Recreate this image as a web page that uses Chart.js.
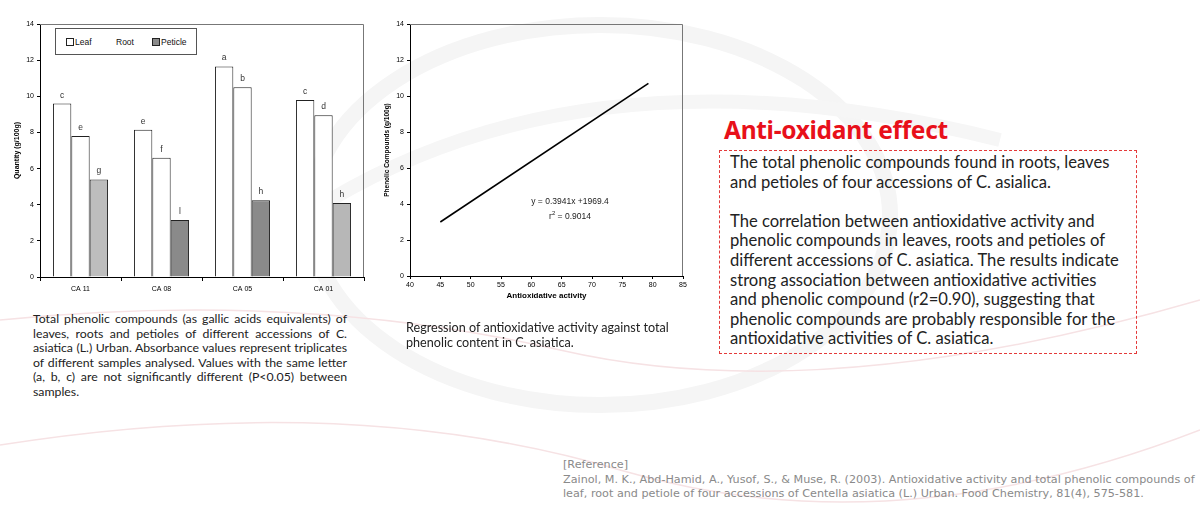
<!DOCTYPE html>
<html>
<head>
<meta charset="utf-8">
<script src="https://cdn.jsdelivr.net/npm/chart.js@4.4.0/dist/chart.umd.min.js"></script>
<style>
  body { margin: 0; width: 1200px; height: 519px; background: #fff; position: relative; overflow: hidden; font-family: Lato, "Noto Sans", sans-serif; }
  .abs { position: absolute; }
  #bg { left: 0; top: 0; }
  #c1 { left: 0; top: 0; width: 372px; height: 305px; }
  #c2 { left: 370px; top: 0; width: 330px; height: 305px; }
  #legend { left: 55px; top: 28px; width: 140px; height: 25px; border: 1px solid #555; background: #fff;
            font: 8.5px "Liberation Sans", Arial, sans-serif; color: #111; }
  #legend span { position: absolute; top: 8px; color: #111; }
  .sw { display: inline-block; width: 6px; height: 6px; border: 1px solid #222; margin-right: 1px; vertical-align: -1px; }
  #eq { left: 515px; top: 195px; width: 110px; text-align: center; font: 8.5px "Liberation Sans", Arial, sans-serif; color: #222; line-height: 12px; }
  #cap1 { left: 33px; top: 312px; width: 314px; font-size: 12.3px; line-height: 14.6px; color: #222; }
  #cap1 div { text-align: justify; text-align-last: justify; white-space: nowrap; }
  #cap1 div.last { text-align-last: left; }
  #cap2 { left: 406px; top: 320px; font-size: 12.6px; line-height: 15px; color: #222; white-space: nowrap; }
  #title { left: 724px; top: 113px; font: bold 24.5px "Noto Sans", sans-serif; color: #e8101a; letter-spacing: -0.3px; }
  #box { left: 719px; top: 150px; width: 418px; height: 204px; border: 1px dashed #e43a3a; box-sizing: border-box; }
  #boxtext { left: 730px; top: 153px; font-size: 16.6px; line-height: 19.6px; color: #222; white-space: nowrap; }
  #ref { left: 563px; top: 458px; font: 11.2px "DejaVu Sans", sans-serif; line-height: 14.5px; color: #8a8a8a; white-space: nowrap; }
</style>
</head>
<body>
<svg id="bg" class="abs" width="1200" height="519">
  <ellipse cx="600" cy="215" rx="290" ry="190" fill="none" stroke="#f5f5f5" stroke-width="16"/>
  <path d="M 330 200 Q 600 40 1000 140" fill="none" stroke="#f6f6f6" stroke-width="14"/>
  <path d="M 0 320 Q 300 290 560 350 T 1200 300" fill="none" stroke="#f6e2e4" stroke-width="1.5"/>
  <path d="M 0 445 Q 350 390 620 470 T 1200 430" fill="none" stroke="#f6e2e4" stroke-width="1.5"/>
</svg>

<div id="c1" class="abs"><canvas id="chart1"></canvas></div>
<div id="c2" class="abs"><canvas id="chart2"></canvas></div>

<div id="legend" class="abs">
  <span style="left:10px"><i class="sw" style="background:#fff"></i>Leaf</span>
  <span style="left:60px">Root</span>
  <span style="left:96px"><i class="sw" style="background:#8a8a8a"></i>Peticle</span>
</div>

<div id="eq" class="abs">y = 0.3941x +1969.4<br>r<sup style="font-size:6px">2</sup> = 0.9014</div>

<div id="cap1" class="abs">
  <div>Total phenolic compounds (as gallic acids equivalents) of</div>
  <div>leaves, roots and petioles of different accessions of C.</div>
  <div>asiatica (L.) Urban. Absorbance values represent triplicates</div>
  <div>of different samples analysed. Values with the same letter</div>
  <div>(a, b, c) are not significantly different (P&lt;0.05) between</div>
  <div class="last">samples.</div>
</div>

<div id="cap2" class="abs">Regression of antioxidative activity against total<br>phenolic content in C. asiatica.</div>

<div id="title" class="abs">Anti-oxidant effect</div>
<div id="box" class="abs"></div>
<div id="boxtext" class="abs">The total phenolic compounds found in roots, leaves<br>and petioles of four accessions of C. asialica.<br><br>The correlation between antioxidative activity and<br>phenolic compounds in leaves, roots and petioles of<br>different accessions of C. asiatica. The results indicate<br>strong association between antioxidative activities<br>and phenolic compound (r2=0.90), suggesting that<br>phenolic compounds are probably responsible for the<br>antioxidative activities of C. asiatica.</div>

<div id="ref" class="abs">[Reference]<br>Zainol, M. K., Abd-Hamid, A., Yusof, S., &amp; Muse, R. (2003). Antioxidative activity and total phenolic compounds of<br>leaf, root and petiole of four accessions of Centella asiatica (L.) Urban. Food Chemistry, 81(4), 575-581.</div>

<script>
// bar chart data (g/100g)
var accessions = ["CA 11", "CA 08", "CA 05", "CA 01"];
var leaf = [9.6, 8.15, 11.65, 9.8];
var root = [7.8, 6.6, 10.5, 8.95];
var petiole = [5.4, 3.15, 4.25, 4.1];
var leafLetters = ["c", "e", "a", "c"];
var rootLetters = ["e", "f", "b", "d"];
var petioleLetters = ["g", "l", "h", "h"];
var petioleColors = ["#bdbdbd", "#8a8a8a", "#8a8a8a", "#b7b7b7"];

// regression line
var regX = [45, 79.3];
var regY = [3.0, 10.7];

var tickFont = { family: "'Liberation Sans', Arial, sans-serif", size: 7 };

// top + right frame of the plot area
var framePlugin = {
  id: 'frame',
  afterDraw: function(chart) {
    var a = chart.chartArea, ctx = chart.ctx;
    ctx.save();
    ctx.strokeStyle = '#777';
    ctx.lineWidth = 1;
    ctx.beginPath();
    ctx.moveTo(a.left, a.top + 0.5);
    ctx.lineTo(a.right - 0.5, a.top + 0.5);
    ctx.lineTo(a.right - 0.5, a.bottom);
    ctx.stroke();
    ctx.restore();
  }
};

// significance letters above bars
var letterPlugin = {
  id: 'letters',
  afterDatasetsDraw: function(chart) {
    var ctx = chart.ctx;
    ctx.save();
    ctx.font = "8.5px 'Liberation Sans', Arial, sans-serif";
    ctx.fillStyle = '#333';
    ctx.textAlign = 'center';
    chart.data.datasets.forEach(function(ds, i) {
      chart.getDatasetMeta(i).data.forEach(function(bar, j) {
        ctx.fillText(ds.letters[j], bar.x, bar.y - 6);
      });
    });
    ctx.restore();
  }
};

new Chart(document.getElementById("chart1").getContext('2d'), {
  type: 'bar',
  data: {
    labels: accessions,
    datasets: [
      { label: 'Leaf', data: leaf, letters: leafLetters, backgroundColor: '#fff', borderColor: '#222', borderWidth: 1 },
      { label: 'Root', data: root, letters: rootLetters, backgroundColor: '#fff', borderColor: '#222', borderWidth: 1 },
      { label: 'Peticle', data: petiole, letters: petioleLetters, backgroundColor: petioleColors, borderColor: '#222', borderWidth: 1 }
    ]
  },
  options: {
    responsive: true,
    maintainAspectRatio: false,
    animation: false,
    layout: { padding: { top: 24, right: 8, left: 13, bottom: 0 } },
    plugins: { legend: { display: false }, tooltip: { enabled: false } },
    datasets: { bar: { categoryPercentage: 0.68, barPercentage: 1.0 } },
    scales: {
      x: {
        grid: { display: true, drawOnChartArea: false, tickLength: 4, color: '#000', offset: true },
        border: { color: '#000' },
        ticks: { font: tickFont, color: '#000', padding: 4 },
        afterFit: function(s) { s.height = 28; }
      },
      y: {
        min: 0, max: 14,
        ticks: { stepSize: 2, font: tickFont, color: '#000', padding: 3 },
        grid: { drawOnChartArea: false, tickLength: 3, color: '#000' },
        border: { color: '#000' },
        title: { display: true, text: 'Quantity (g/100g)', font: { family: "'Liberation Sans', Arial, sans-serif", size: 7, weight: 'bold' }, color: '#000', padding: 0 },
        afterFit: function(s) { s.width = 27; }
      }
    }
  },
  plugins: [framePlugin, letterPlugin]
});

new Chart(document.getElementById("chart2").getContext('2d'), {
  type: 'scatter',
  data: {
    datasets: [{
      data: regX.map(function(x, i) { return { x: x, y: regY[i] }; }),
      showLine: true, borderColor: '#000', borderWidth: 1.6, pointRadius: 0
    }]
  },
  options: {
    responsive: true,
    maintainAspectRatio: false,
    animation: false,
    layout: { padding: { top: 24, right: 17, left: 13, bottom: 0 } },
    plugins: { legend: { display: false }, tooltip: { enabled: false } },
    scales: {
      x: {
        min: 40, max: 85,
        ticks: { stepSize: 5, font: tickFont, color: '#000', padding: 2 },
        grid: { drawOnChartArea: false, tickLength: 3, color: '#000' },
        border: { color: '#000' },
        title: { display: true, text: 'Antioxidative activity', font: { family: "'Liberation Sans', Arial, sans-serif", size: 8, weight: 'bold' }, color: '#000', padding: { top: 2 } },
        afterFit: function(s) { s.height = 29; }
      },
      y: {
        min: 0, max: 14,
        ticks: { stepSize: 2, font: tickFont, color: '#000', padding: 3 },
        grid: { drawOnChartArea: false, tickLength: 3, color: '#000' },
        border: { color: '#000' },
        title: { display: true, text: 'Phenolic Compounds (g/100g)', font: { family: "'Liberation Sans', Arial, sans-serif", size: 6.5, weight: 'bold' }, color: '#000', padding: 0 },
        afterFit: function(s) { s.width = 27; }
      }
    }
  },
  plugins: [framePlugin]
});
</script>
</body>
</html>
